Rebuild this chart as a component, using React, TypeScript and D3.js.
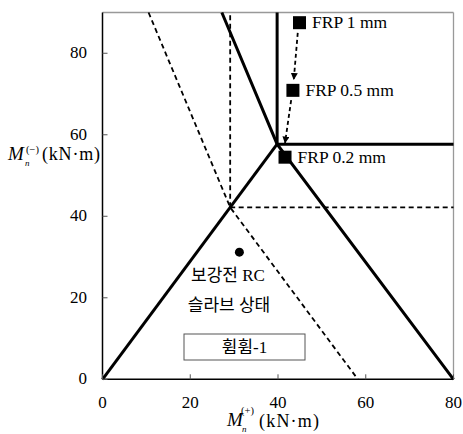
import React from 'react';
import * as d3 from 'd3';

// 보강 후 (solid) and 보강 전 (dashed) interaction envelopes
const afterLines: [number, number][][] = [
  [[0, 0], [39.8, 57.7]],
  [[27.2, 90], [39.8, 57.7], [80, 0]],
  [[39.8, 57.7], [39.8, 90]],
  [[39.8, 57.7], [80, 57.7]],
];
const beforeLines: [number, number][][] = [
  [[10.5, 90], [29.1, 42.2], [58.2, 0]],
  [[29.1, 42.2], [29.1, 90]],
  [[29.1, 42.2], [80, 42.2]],
];

const frpLabels = ['FRP 1 mm', 'FRP 0.5 mm', 'FRP 0.2 mm'];
const frpX = [44.9, 43.4, 41.6];
const frpY = [87.5, 70.9, 54.5];

const arrows: [number, number][][] = [
  [[44.5, 85.0], [43.6, 73.6]],
  [[43.0, 68.5], [41.6, 58.0]],
];

const rcPoint: [number, number] = [31.2, 31.2];

const xTicks = [0, 20, 40, 60, 80];
const yTicks = [0, 20, 40, 60, 80];

const W = 463;
const H = 434;
const font = "'Liberation Serif', 'Times New Roman', 'Noto Sans CJK KR', serif";

export default function App() {
  const x = d3.scaleLinear().domain([0, 80]).range([102.5, 453.5]);
  const y = d3.scaleLinear().domain([0, 90]).range([379.3, 12.5]);
  const line = d3.line<[number, number]>().x(d => x(d[0])).y(d => y(d[1]));

  return (
    <svg width={W} height={H}
      style={{ position: 'absolute', left: 0, top: 0, background: '#fff', fontFamily: font }}>
      <defs>
        <marker id="ah" viewBox="0 0 10 10" refX="9" refY="5" markerWidth="7" markerHeight="7"
          orient="auto" markerUnits="userSpaceOnUse">
          <path d="M0,0 L10,5 L0,10 z" fill="#000" />
        </marker>
      </defs>
      {/* frame */}
      <line x1={x(0)} x2={x(80)} y1={y(90)} y2={y(90)} stroke="#999" strokeWidth={1.3} />
      <line x1={x(80)} x2={x(80)} y1={y(90)} y2={y(0)} stroke="#999" strokeWidth={1.3} />

      {beforeLines.map((d, i) => (
        <path key={'b' + i} d={line(d) || ''} fill="none" stroke="#000" strokeWidth={1.8}
          strokeDasharray="5,3.5" />
      ))}
      {afterLines.map((d, i) => (
        <path key={'a' + i} d={line(d) || ''} fill="none" stroke="#000" strokeWidth={3}
          strokeLinejoin="miter" />
      ))}

      {arrows.map((d, i) => (
        <path key={'ar' + i} d={line(d) || ''} fill="none" stroke="#000" strokeWidth={1.8}
          strokeDasharray="4,3" markerEnd="url(#ah)" />
      ))}

      {frpX.map((v, i) => (
        <g key={'f' + i}>
          <rect x={x(v) - 6.5} y={y(frpY[i]) - 6.5} width={13} height={13} fill="#000" />
          <text x={x(v) + 12.5} y={y(frpY[i]) + 5.5} fontSize={17.5}>{frpLabels[i]}</text>
        </g>
      ))}

      <circle cx={x(rcPoint[0])} cy={y(rcPoint[1])} r={4.5} fill="#000" />
      <text x={228} y={281} fontSize={17} textAnchor="middle">보강전 RC</text>
      <text x={229} y={311} fontSize={17} textAnchor="middle">슬라브 상태</text>

      <rect x={184} y={334} width={121} height={26} fill="#fff" stroke="#555" strokeWidth={1} />
      <text x={244.5} y={353} fontSize={17} textAnchor="middle">휨휨-1</text>

      {/* axes */}
      <line x1={x(0)} x2={x(80)} y1={y(0)} y2={y(0)} stroke="#000" strokeWidth={1.5} />
      <line x1={x(0)} x2={x(0)} y1={y(0)} y2={y(90)} stroke="#000" strokeWidth={1.5} />
      {xTicks.map(t => (
        <g key={'xt' + t}>
          <line x1={x(t)} x2={x(t)} y1={y(0)} y2={y(0) - 5} stroke="#555" strokeWidth={1} />
          <text x={x(t)} y={407.5} fontSize={17} textAnchor="middle">{t}</text>
        </g>
      ))}
      {yTicks.map(t => (
        <g key={'yt' + t}>
          <line x1={x(0)} x2={x(0) + 5} y1={y(t)} y2={y(t)} stroke="#555" strokeWidth={1} />
          <text x={87} y={y(t) + 5} fontSize={17} textAnchor="end">{t}</text>
        </g>
      ))}

      {/* x-axis label */}
      <text fontSize={19}>
        <tspan x={227} y={426} fontStyle="italic">M</tspan>
        <tspan x={241} y={414} fontSize={10.5}>(+)</tspan>
        <tspan x={242} y={432} fontSize={9} fontStyle="italic">n</tspan>
      </text>
      <text x={259} y={427} fontSize={18} textLength={60} lengthAdjust="spacing">(kN·m)</text>

      {/* y-axis label */}
      <text fontSize={19}>
        <tspan x={8} y={160} fontStyle="italic">M</tspan>
        <tspan x={26} y={153} fontSize={10.5}>(−)</tspan>
        <tspan x={25} y={166} fontSize={9} fontStyle="italic">n</tspan>
      </text>
      <text x={42} y={160} fontSize={18} textLength={58} lengthAdjust="spacing">(kN·m)</text>
    </svg>
  );
}
